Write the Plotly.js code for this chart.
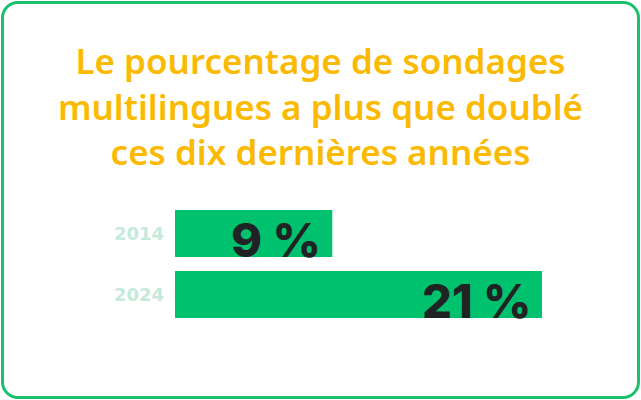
<!DOCTYPE html>
<html>
<head>
<meta charset="utf-8">
<script src="https://cdn.plot.ly/plotly-3.0.1.min.js"></script>
<style>
html,body{margin:0;padding:0;background:#fff;}
#wrap{position:relative;width:641px;height:400px;}
#chart{position:absolute;left:0;top:0;width:641px;height:400px;}
#frame{position:absolute;left:1px;top:1px;width:633px;height:392px;border:3px solid #1dbf6f;border-radius:17px;pointer-events:none;}
</style>
</head>
<body>
<div id="wrap"><div id="chart"></div><div id="frame"></div></div>
<script>
const years = ['2014', '2024'];
const shares = [9, 21];
const valueLabels = ['9 %', '21 %'];
const titleText = 'Le pourcentage de sondages<br>multilingues a plus que doublé<br>ces dix dernières années';

const trace = {
  type: 'bar',
  orientation: 'h',
  y: years,
  x: shares,
  marker: {color: '#00c16e'},
  hoverinfo: 'none'
};

const annotations = years.map((yr, i) => ({
  x: shares[i], y: i, xref: 'x', yref: 'y',
  text: valueLabels[i],
  showarrow: false,
  xanchor: 'right', yanchor: 'middle',
  xshift: -9, yshift: -6,
  font: {family: 'Inter', size: 47, weight: 800, color: '#1f2323'}
}));

const layout = {
  width: 641, height: 400,
  margin: {l: 175, r: 99, t: 203, b: 75},
  paper_bgcolor: 'rgba(0,0,0,0)',
  plot_bgcolor: 'rgba(0,0,0,0)',
  showlegend: false,
  bargap: 0.23,
  title: {
    text: titleText,
    x: 0.5, xref: 'container', xanchor: 'center',
    y: 1 - 74/400, yref: 'container', yanchor: 'top',
    font: {family: 'Noto Sans', size: 35, weight: 600, color: '#fbba00'}
  },
  xaxis: {range: [0, 21], visible: false, fixedrange: true},
  yaxis: {
    type: 'category',
    categoryorder: 'array', categoryarray: years,
    autorange: false, range: [1.5, -0.5],
    showgrid: false, zeroline: false, showline: false,
    ticks: '', ticklabelstandoff: 10,
    tickfont: {family: 'DejaVu Sans', size: 18, weight: 700, color: '#c5eadb'}
  },
  annotations: annotations
};

Plotly.newPlot('chart', [trace], layout, {displayModeBar: false, staticPlot: true});
</script>
</body>
</html>
